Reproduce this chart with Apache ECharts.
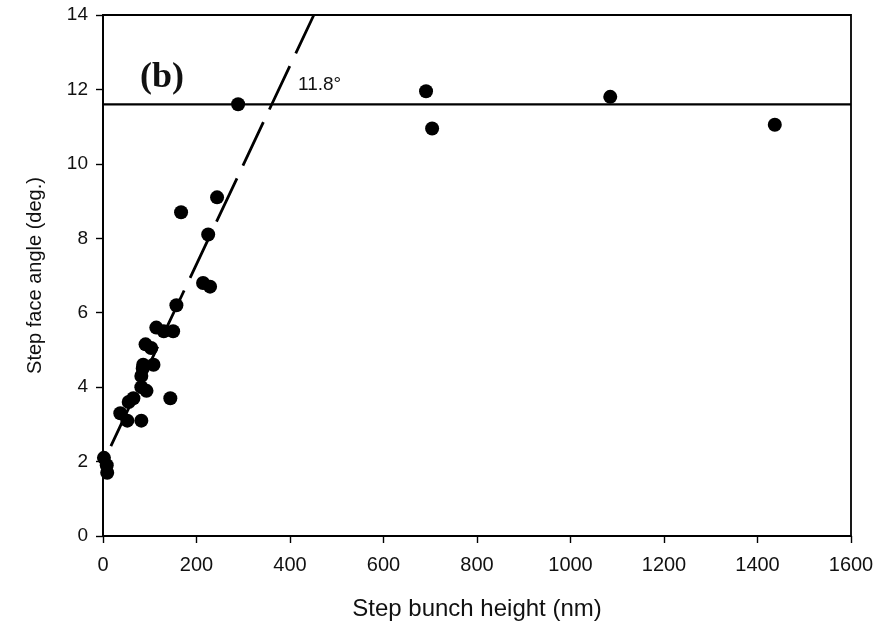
<!DOCTYPE html>
<html>
<head>
<meta charset="utf-8">
<script src="https://cdn.jsdelivr.net/npm/echarts@6/dist/echarts.min.js"></script>
<style>html,body{margin:0;padding:0;background:#fff}#c{width:892px;height:626px}</style>
</head>
<body>
<div id="c"></div>
<script>
// Data
const heightNm = [2, 8, 9, 37, 52, 55, 65, 82, 82, 93, 82, 85, 86, 108, 91, 103, 114, 130, 150, 157, 144, 167, 214, 229, 225, 244, 289, 691, 704, 1085, 1437];
const angleDeg = [2.1, 1.9, 1.7, 3.3, 3.1, 3.6, 3.7, 3.1, 4.0, 3.9, 4.3, 4.5, 4.6, 4.6, 5.15, 5.05, 5.6, 5.5, 5.5, 6.2, 3.7, 8.7, 6.8, 6.7, 8.1, 9.1, 11.6, 11.95, 10.95, 11.8, 11.05];
const fitX = [5, 451];
const fitY = [2.1, 14];
const plateauX = [0, 1600];
const plateauY = [11.6, 11.6];
const xTicks = [0, 200, 400, 600, 800, 1000, 1200, 1400, 1600];
const yTicks = [0, 2, 4, 6, 8, 10, 12, 14];
const plateauLabel = '11.8°';
const panelLabel = '(b)';

const pts = heightNm.map((x, i) => [x, angleDeg[i]]);
const fit = fitX.map((x, i) => [x, fitY[i]]);
const plateau = plateauX.map((x, i) => [x, plateauY[i]]);

const chart = echarts.init(document.getElementById('c'), null, {renderer: 'canvas'});
const font = 'Liberation Sans, Arial, sans-serif';
chart.setOption({
  animation: false,
  grid: {left: 103, right: 41, top: 15, bottom: 89, show: true, borderColor: '#000', borderWidth: 1.8, backgroundColor: 'transparent'},
  xAxis: {
    type: 'value', min: 0, max: 1600, interval: 200,
    name: 'Step bunch height (nm)', nameLocation: 'middle', nameGap: 61,
    nameTextStyle: {fontFamily: font, fontSize: 24, color: '#111'},
    axisLine: {show: true, onZero: false, lineStyle: {color: '#000', width: 1.8}},
    axisTick: {show: true, inside: false, length: 7, lineStyle: {color: '#000', width: 1.4}},
    axisLabel: {fontFamily: font, fontSize: 20, color: '#111', margin: 19,
      formatter: v => xTicks.includes(v) ? String(v) : ''},
    splitLine: {show: false}
  },
  yAxis: {
    type: 'value', min: 0, max: 14, interval: 2,
    name: 'Step face angle (deg.)', nameLocation: 'middle', nameGap: 58, nameRotate: 90,
    nameTextStyle: {fontFamily: font, fontSize: 20, color: '#111'},
    axisLine: {show: true, onZero: false, lineStyle: {color: '#000', width: 1.8}},
    axisTick: {show: true, inside: false, length: 7, lineStyle: {color: '#000', width: 1.4}},
    axisLabel: {fontFamily: font, fontSize: 19, color: '#111', margin: 15,
      formatter: v => yTicks.includes(v) ? String(v) : ''},
    splitLine: {show: false}
  },
  series: [
    {
      type: 'line', data: plateau, symbol: 'none', silent: true,
      lineStyle: {color: '#000', width: 2.2}, z: 2
    },
    {
      type: 'line', data: fit, symbol: 'none', silent: true,
      lineStyle: {color: '#000', width: 2.8, type: [48, 14], dashOffset: 49}, z: 3
    },
    {
      type: 'scatter', data: pts, symbol: 'circle', symbolSize: 14,
      itemStyle: {color: '#000', opacity: 1}, z: 4
    }
  ],
  graphic: [
    {type: 'text', left: 140, top: 60, style: {text: panelLabel, font: 'bold 36px "Liberation Serif", "Times New Roman", serif', fill: '#111'}},
    {type: 'text', left: 298, top: 75, style: {text: plateauLabel, font: '19px ' + font, fill: '#111'}}
  ]
});
</script>
</body>
</html>
